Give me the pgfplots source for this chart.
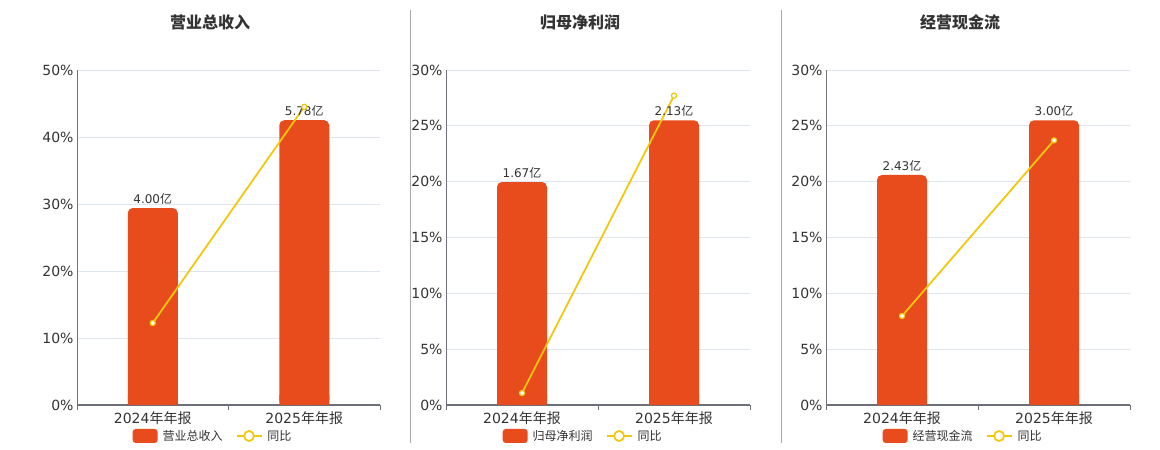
\documentclass[border=0pt]{standalone}
\usepackage{pgfplots}
\pgfplotsset{compat=1.18}
\usepackage{fontspec}
\setmainfont{DejaVu Sans}
\newfontfamily\cjk{Noto Sans CJK SC}
\newcommand\yi{{\cjk 亿}}
\definecolor{barcol}{HTML}{E84B1C}
\definecolor{yelcol}{HTML}{F2C80E}
\definecolor{gridcol}{HTML}{E0E6F1}
\definecolor{axiscol}{HTML}{6E7079}
\definecolor{textcol}{HTML}{333333}
\definecolor{sepcol}{HTML}{AAAAAA}
\pgfplotsset{
  panel/.style={
    scale only axis, height=335pt,
    anchor=south west,
    xmin=-0.5, xmax=1.5, ymin=0,
    axis lines=left,
    x axis line style={-, draw=axiscol, line width=1.5pt},
    y axis line style={-, draw=axiscol, line width=1pt},
    xtick={0,1},
    xticklabels={2024{\cjk 年年报}, 2025{\cjk 年年报}},
    minor xtick={-0.5,0.5,1.5},
    major tick length=0pt,
    minor tick length=5pt,
    tick align=outside,
    minor x tick style={draw=axiscol, line width=1pt},
    ymajorgrids, grid style={gridcol, line width=0.8pt},
    tick label style={font=\fontsize{14}{16}\selectfont, text=textcol},
    xticklabel style={yshift=-3pt},
    /pgf/number format/assume math mode=true,
    yticklabel={\pgfmathprintnumber{\tick}\%},
    clip=false,
    legend columns=-1,
    legend style={draw=none, fill=none, font=\fontsize{12}{14}\selectfont\cjk, text=textcol, anchor=center,
      /tikz/every odd column/.append style={column sep=3pt},
      /tikz/every even column/.append style={column sep=11pt}},
    legend cell align=left,
  },
  mainbar/.style={ybar, bar width=50pt, bar shift=0pt, fill=barcol, draw=none, rounded corners=5pt,
    nodes near coords, point meta=explicit symbolic,
    every node near coord/.append style={font=\fontsize{12}{14}\selectfont, text=textcol},
    legend image code/.code={\fill[barcol, rounded corners=3pt] (0pt,-7pt) rectangle (25pt,7pt);}},
  fillbar/.style={ybar, bar width=50pt, bar shift=0pt, fill=barcol, draw=none, forget plot},
  yoy/.style={yelcol, line width=1.8pt, mark=*, mark size=2.6pt,
    mark options={fill=white, draw=yelcol, line width=1.2pt},
    legend image code/.code={\draw[yelcol, line width=1.8pt] (0pt,0pt) -- (25pt,0pt);
      \draw[yelcol, fill=white, line width=1.8pt] (12.5pt,0pt) circle (5pt);}},
}
\begin{document}
\begin{tikzpicture}
\useasboundingbox (0,0) rectangle (1160pt,450pt);
\draw[sepcol, line width=1pt] (410pt,7pt) -- (410pt,440pt);
\draw[sepcol, line width=1pt] (781pt,7pt) -- (781pt,440pt);
\node[font=\fontsize{16}{18}\selectfont\cjk\bfseries, text=textcol] at (210pt,428pt) {营业总收入};
\node[font=\fontsize{16}{18}\selectfont\cjk\bfseries, text=textcol] at (580pt,428pt) {归母净利润};
\node[font=\fontsize{16}{18}\selectfont\cjk\bfseries, text=textcol] at (960pt,428pt) {经营现金流};

% Panel 1
\begin{axis}[panel, at={(77pt,45pt)}, width=303pt, ymax=50, ytick={0,10,20,30,40,50},
  legend style={at={(0.449,-0.0925)}}]
\addplot[mainbar] coordinates {(0,29.4)[4.00\yi] (1,42.5)[5.78\yi]};
\addlegendentry{营业总收入}
\addplot[fillbar] coordinates {(0,1.5) (1,1.5)};
\addplot[yoy] coordinates {(0,12.24) (1,44.5)};
\addlegendentry{同比}
\end{axis}

% Panel 2
\begin{axis}[panel, at={(446pt,45pt)}, width=304pt, ymax=30, ytick={0,5,10,15,20,25,30},
  legend style={at={(0.451,-0.0925)}}]
\addplot[mainbar] coordinates {(0,19.97)[1.67\yi] (1,25.5)[2.13\yi]};
\addlegendentry{归母净利润}
\addplot[fillbar] coordinates {(0,1) (1,1)};
\addplot[yoy] coordinates {(0,1.07) (1,27.7)};
\addlegendentry{同比}
\end{axis}

% Panel 3
\begin{axis}[panel, at={(826pt,45pt)}, width=304pt, ymax=30, ytick={0,5,10,15,20,25,30},
  legend style={at={(0.451,-0.0925)}}]
\addplot[mainbar] coordinates {(0,20.6)[2.43\yi] (1,25.5)[3.00\yi]};
\addlegendentry{经营现金流}
\addplot[fillbar] coordinates {(0,1) (1,1)};
\addplot[yoy] coordinates {(0,7.97) (1,23.7)};
\addlegendentry{同比}
\end{axis}
\end{tikzpicture}
\end{document}
